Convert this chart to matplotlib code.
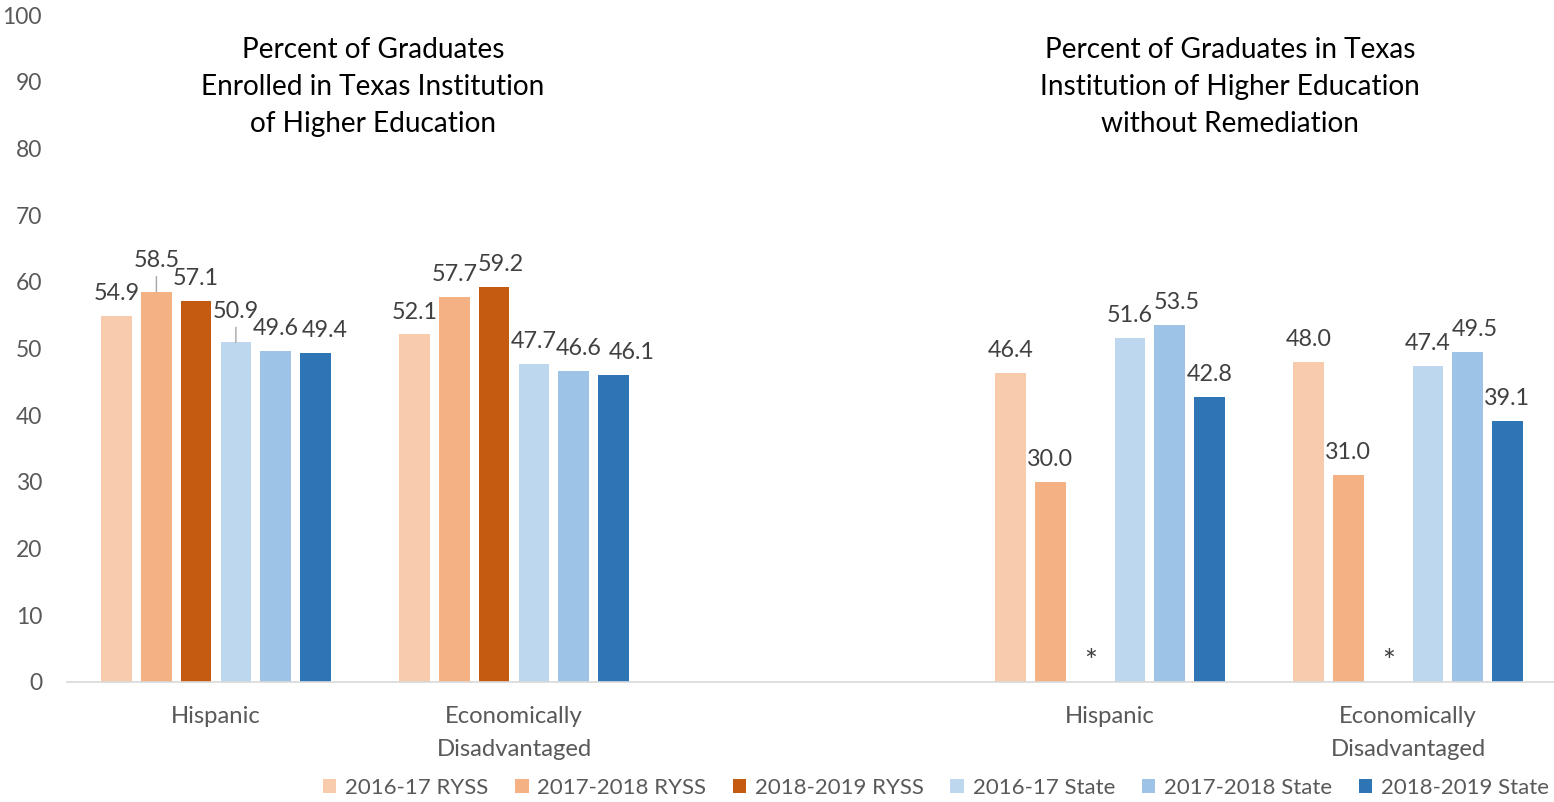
import numpy as np
import matplotlib
matplotlib.use("Agg")
import matplotlib.pyplot as plt
from matplotlib.patches import Patch

plt.rcParams["font.family"] = ["Lato", "DejaVu Sans"]

categories = ["Hispanic", "Economically\nDisadvantaged", "", "Hispanic", "Economically\nDisadvantaged"]
series_names = ["2016-17 RYSS", "2017-2018 RYSS", "2018-2019 RYSS",
                "2016-17 State", "2017-2018 State", "2018-2019 State"]
ryss_1617 = [54.9, 52.1, np.nan, 46.4, 48.0]
ryss_1718 = [58.5, 57.7, np.nan, 30.0, 31.0]
ryss_1819 = [57.1, 59.2, np.nan, 0.0, 0.0]
state_1617 = [50.9, 47.7, np.nan, 51.6, 47.4]
state_1718 = [49.6, 46.6, np.nan, 53.5, 49.5]
state_1819 = [49.4, 46.1, np.nan, 42.8, 39.1]
# masked values shown as "*" in the source
ryss_1819_masked = [False, False, False, True, True]

panel_titles = ["Percent of Graduates\nEnrolled in Texas Institution\nof Higher Education",
                "Percent of Graduates in Texas\nInstitution of Higher Education\nwithout Remediation"]

colors = ["#F8CBAD", "#F4B183", "#C55A11", "#BDD7EE", "#9DC3E6", "#2E75B6"]
series = [ryss_1617, ryss_1718, ryss_1819, state_1617, state_1718, state_1819]
masks = [None, None, ryss_1819_masked, None, None, None]

W, H = 1554, 802
fig = plt.figure(figsize=(W / 100, H / 100), dpi=100)
ax = fig.add_axes([67 / W, 120 / H, 1490 / W, 667 / H])

x = np.arange(len(categories))
pitch = 0.1333
width = 0.103
label_col = "#404040"
# labels that Excel pushed up with a leader line: (series index, category index)
leader = {(1, 0), (3, 0)}
# sideways nudges (points) Excel applied to avoid label collisions
nudge = {(5, 0): 7, (4, 1): 3.5, (5, 1): 13, (2, 1): 5, (4, 3): 5, (4, 4): 5.5}

for i, (vals, col, name) in enumerate(zip(series, colors, series_names)):
    pos = x + (i - 2.5) * pitch
    v = np.array(vals, dtype=float)
    ax.bar(pos, v, width=width, color=col, label=name, zorder=2)
    for j, (px, val) in enumerate(zip(pos, v)):
        if np.isnan(val):
            continue
        if masks[i] is not None and masks[i][j]:
            ax.annotate("*", (px, 0), xytext=(0, 8), textcoords="offset points",
                        ha="center", va="baseline", fontsize=22, color=label_col)
            continue
        off = 8.5
        if (i, j) in leader:
            off = 15
            ax.annotate("", (px, val), xytext=(0, 11), textcoords="offset points",
                        arrowprops=dict(arrowstyle="-", color="#A6A6A6", lw=1,
                                        shrinkA=0, shrinkB=0))
        ax.annotate(f"{val:.1f}", (px, val), xytext=(nudge.get((i, j), 0), off),
                    textcoords="offset points", ha="center", va="bottom",
                    fontsize=16.8, color=label_col)

ax.set_xlim(-0.5, len(categories) - 0.5)
ax.set_ylim(0, 100)
ax.set_yticks(np.arange(0, 101, 10))
ax.set_xticks(x)
ax.set_xticklabels(categories)
ax.tick_params(axis="both", length=0, labelcolor="#595959")
ax.tick_params(axis="y", pad=18, labelsize=16.5)
ax.tick_params(axis="x", pad=17, labelsize=17.2)
for lab in ax.get_xticklabels():
    lab.set_linespacing(1.72)
for s in ["top", "right", "left"]:
    ax.spines[s].set_visible(False)
ax.spines["bottom"].set_color("#D9D9D9")
ax.spines["bottom"].set_linewidth(1.2)

fig.text(373 / W, 1 - 87 / H, panel_titles[0], ha="center", va="center",
         fontsize=20.2, linespacing=1.53, color="black")
fig.text(1230 / W, 1 - 87 / H, panel_titles[1], ha="center", va="center",
         fontsize=20.2, linespacing=1.53, color="black")

handles = [Patch(facecolor=c, edgecolor="none") for c in colors]
leg = fig.legend(handles, series_names, loc="center", ncol=6,
                 bbox_to_anchor=(936 / W, 1 - 788 / H), frameon=False,
                 fontsize=16, handlelength=0.62, handleheight=0.62,
                 handletextpad=0.4, columnspacing=1.18, borderaxespad=0,
                 borderpad=0)
for t in leg.get_texts():
    t.set_color("#595959")

fig.savefig("out.png", dpi=100)
